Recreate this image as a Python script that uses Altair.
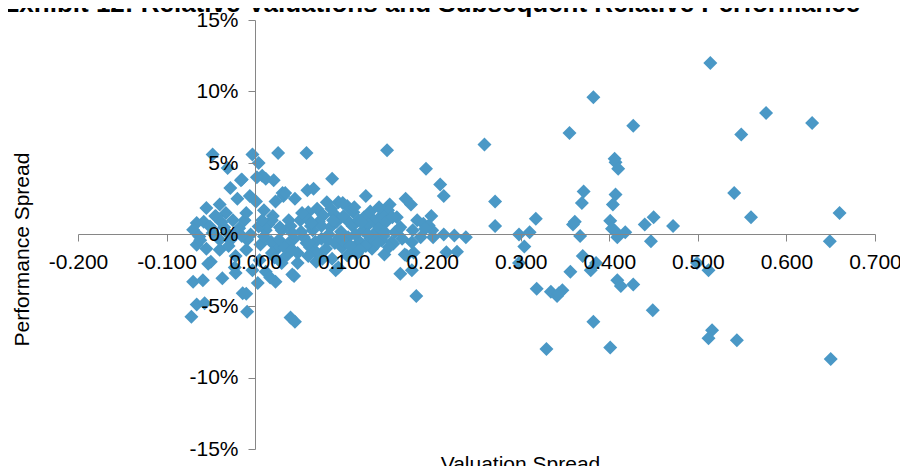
import altair as alt
import pandas as pd

TITLE = "Exhibit 12: Relative Valuations and Subsequent Relative Performance"
X_TITLE = "Valuation Spread"
Y_TITLE = "Performance Spread"
X_TICKS = [-0.2, -0.1, 0.0, 0.1, 0.2, 0.3, 0.4, 0.5, 0.6, 0.7]
Y_TICKS = [-0.15, -0.10, -0.05, 0.0, 0.05, 0.10, 0.15]

# wide spread points (valuation spread, performance spread in %)
wide_x = [0.514, 0.382, 0.577, 0.629, 0.427, 0.355, 0.549, 0.259, 0.149, 0.406,
          0.407, 0.410, 0.193, 0.209, 0.213, 0.541, 0.371, 0.407, 0.271, 0.369,
          0.404, 0.660, 0.560, 0.317, 0.450, 0.440, 0.472, 0.359, 0.361, 0.271,
          0.401, 0.403, 0.418, 0.409, 0.406, 0.367, 0.298, 0.310, 0.304, 0.447,
          0.649, 0.225, 0.238, 0.213, 0.298, 0.356, 0.370, 0.379, 0.385, 0.499,
          0.512, 0.318, 0.334, 0.341, 0.347, 0.343, 0.409, 0.413, 0.427, 0.449,
          0.382, 0.516, 0.512, 0.544, 0.329, 0.401, 0.650, 0.182, 0.164, 0.177,
          0.228, 0.146, 0.179, 0.169]
wide_y = [12.0, 9.6, 8.5, 7.8, 7.6, 7.1, 7.0, 6.3, 5.9, 5.3,
          5.05, 4.6, 4.6, 3.5, 2.7, 2.9, 3.0, 2.8, 2.3, 2.2,
          2.1, 1.5, 1.2, 1.1, 1.2, 0.7, 0.6, 0.7, 0.9, 0.6,
          0.96, 0.4, 0.16, -0.19, 0.28, -0.1, 0.0, 0.16, -0.84, -0.47,
          -0.47, -0.07, -0.19, 0.0, -2.0, -2.6, -1.5, -2.5, -2.0, -2.0,
          -2.5, -3.8, -4.0, -4.3, -3.9, -4.1, -3.2, -3.6, -3.5, -5.3,
          -6.1, -6.7, -7.25, -7.4, -8.0, -7.9, -8.7, -4.3, -2.75, -2.5,
          -1.2, -1.4, -1.26, -1.4]

# central cluster points
mid_x = [0.170, 0.176, 0.152, 0.150, 0.162, 0.154, 0.183, 0.190, 0.196, 0.200,
         0.187, 0.177, 0.171, 0.199, 0.216, 0.201, 0.192, 0.158, 0.164, 0.143,
         0.156, 0.151, 0.132, 0.115, 0.104, 0.087, 0.076, 0.091, 0.094, 0.044,
         0.069, 0.040, 0.045, 0.125, 0.087, 0.058, 0.059, 0.066, 0.032, 0.045,
         0.081, 0.094, 0.104, 0.070, 0.060, 0.051, 0.077, 0.089, 0.111, 0.123,
         0.134, 0.143, 0.104, 0.085, 0.097, 0.110, 0.122, 0.135, 0.065, 0.055,
         0.075, 0.090, 0.105, 0.118, 0.130, 0.140, 0.148, 0.160, 0.062, 0.080,
         0.098, 0.112, 0.125, 0.038, 0.030, 0.025, 0.048, 0.070, 0.092, 0.117,
         0.072, 0.040, 0.100, 0.083, 0.063, 0.128, 0.113, 0.145, 0.058, 0.035,
         0.020, 0.015]
mid_y = [2.5, 2.1, 2.1, 1.7, 0.37, -0.54, 1.0, 0.75, 0.63, 0.3,
         -0.19, -0.54, -1.47, 1.3, -1.24, -0.19, 0.4, 0.16, 0.5, -0.42,
         -0.65, -0.89, -1.0, -1.35, -1.47, -1.7, -1.7, -2.5, -2.3, -2.9,
         -1.9, -5.8, -6.1, 2.7, 3.9, 5.7, 3.1, 3.2, 2.7, 2.5,
         2.26, 2.26, 2.0, 1.8, 1.56, 1.0, 1.33, 1.45, 1.56, 1.2,
         1.0, 1.33, 1.0, 0.5, 0.2, 0.6, 0.3, 0.1, 0.3, -0.2,
         -0.3, -0.6, -0.2, -0.5, -0.3, 0.5, 0.9, 1.2, -0.9, -1.0,
         -0.9, -1.0, -0.8, -0.6, 0.3, -1.0, -1.3, -1.3, 0.9, 1.0,
         0.9, 0.6, -0.5, 0.0, 0.6, 0.7, 0.0, -0.1, -0.6, -1.5,
         1.3, 0.7]

# dense core of the cluster
core_x = [0.075, 0.088, 0.100, 0.112, 0.120, 0.130, 0.095, 0.108, 0.068, 0.082,
          0.118, 0.138, 0.146, 0.127, 0.052, 0.044, 0.033, 0.057, 0.086, 0.099,
          0.140, 0.155, 0.166, 0.178, 0.018, 0.012, -0.005, -0.028, -0.048, -0.058,
          -0.035, -0.012, 0.022, 0.006, 0.048, 0.060]
core_y = [0.6, 1.0, 1.3, 1.9, 0.9, 1.6, -0.2, -0.8, -0.5, -0.4,
          -1.1, -0.6, 0.2, 0.0, 0.2, -0.3, -0.9, 1.2, 1.8, 2.2,
          1.9, 1.2, -0.3, 0.3, -0.5, 0.3, 0.0, -0.4, 0.1, 0.9,
          0.5, 1.0, -1.6, -0.7, -2.0, -1.5]

# left cluster points
left_x = [-0.048, -0.003, 0.026, -0.031, 0.004, -0.016, 0.008, 0.021, -0.028, 0.031,
          -0.020, -0.055, -0.040, -0.033, 0.001, 0.010, 0.023, -0.066, -0.070, -0.063,
          -0.051, -0.044, -0.025, -0.010, 0.004, 0.019, 0.038, 0.053, 0.064, 0.042,
          0.027, 0.010, -0.009, -0.022, -0.040, -0.066, -0.050, -0.022, -0.037, -0.070,
          -0.059, -0.022, -0.003, 0.012, 0.023, 0.042, -0.014, 0.003, -0.066, -0.057,
          -0.072, -0.009, -0.040, -0.010, 0.019, 0.042, 0.060, -0.018, -0.053, -0.023,
          0.017, -0.010, -0.045, -0.038, -0.006, 0.034, 0.012, -0.015, 0.002, -0.032,
          -0.055, -0.062, 0.005, 0.030, -0.030, 0.008, 0.028, -0.015]
left_y = [5.6, 5.6, 5.7, 4.65, 5.0, 3.8, 4.1, 3.8, 3.25, 2.9,
          2.5, 1.85, 2.1, 1.5, 2.3, 1.7, 2.3, 0.8, 0.33, -0.14,
          0.56, 1.26, 1.0, 1.5, 0.56, 1.0, 1.0, 1.5, 0.8, 0.1,
          -0.37, -0.14, -0.37, 0.1, -0.37, -0.72, -1.9, -1.5, -3.06, -3.3,
          -3.2, -2.7, -2.5, -2.6, -3.3, -2.8, -4.1, -3.4, -4.9, -4.8,
          -5.75, -5.4, -1.07, -1.07, -1.3, -1.07, -0.6, 0.44, -2.05, -2.3,
          -3.0, -4.15, 1.3, 0.85, 2.7, 2.9, 3.9, 3.85, 4.0, 0.14,
          -1.0, -0.4, -1.8, -2.0, -0.8, 1.0, 0.5, -0.1]

xs = wide_x + mid_x + core_x + left_x
ys = [v / 100.0 for v in (wide_y + mid_y + core_y + left_y)]
df = pd.DataFrame({"valuation": xs, "performance": ys})

FONT = "Liberation Sans"
AXIS_GREY = "#868686"
W, H = 797, 429

x_axis = alt.Axis(
    values=X_TICKS, format=".3f", offset=-215, tickSize=7, tickColor=AXIS_GREY,
    domainColor=AXIS_GREY, grid=False, labelFont=FONT, labelFontSize=21,
    labelColor="#000000", labelPadding=10, labelFlush=False, labelOverlap=False,
    labelExpr="replace(datum.label, '\u2212', '-')",
    title=X_TITLE, titleFont=FONT, titleFontSize=21, titleFontWeight="normal",
    titleColor="#000000", titleX=442, titleY=230, titleBaseline="middle",
    titleAlign="center", zindex=1,
)
y_axis = alt.Axis(
    values=Y_TICKS, format=".0%", offset=-177, tickSize=7, tickColor=AXIS_GREY,
    domainColor=AXIS_GREY, grid=False, labelFont=FONT, labelFontSize=21,
    labelColor="#000000", labelPadding=10, labelFlush=False, labelOverlap=False,
    labelExpr="replace(datum.label, '\u2212', '-')",
    title=Y_TITLE, titleFont=FONT, titleFontSize=21, titleFontWeight="normal",
    titleColor="#000000", titleX=-233, titleY=229, titleBaseline="middle",
    titleAlign="center", titleAngle=270, zindex=1,
)

points = alt.Chart(df).mark_point(
    shape="diamond", filled=True, size=196, color="#4a98c6", opacity=1
).encode(
    x=alt.X("valuation:Q", scale=alt.Scale(domain=[-0.2, 0.7], nice=False, zero=False), axis=x_axis),
    y=alt.Y("performance:Q", scale=alt.Scale(domain=[-0.15, 0.15], nice=False, zero=False), axis=y_axis),
)

title = alt.Chart(pd.DataFrame({"t": [TITLE]})).mark_text(
    align="left", baseline="alphabetic", font=FONT, fontSize=26, fontWeight="bold",
    color="#000000"
).encode(x=alt.value(-76), y=alt.value(-8), text="t:N")

chart = alt.layer(points, title).properties(
    width=W, height=H,
    autosize=alt.AutoSizeParams(type="none"),
    padding={"left": 70, "top": 12, "right": 25, "bottom": 17},
).configure_view(stroke=None)

chart.save("out.html", embed_options={"renderer": "svg", "actions": False})
